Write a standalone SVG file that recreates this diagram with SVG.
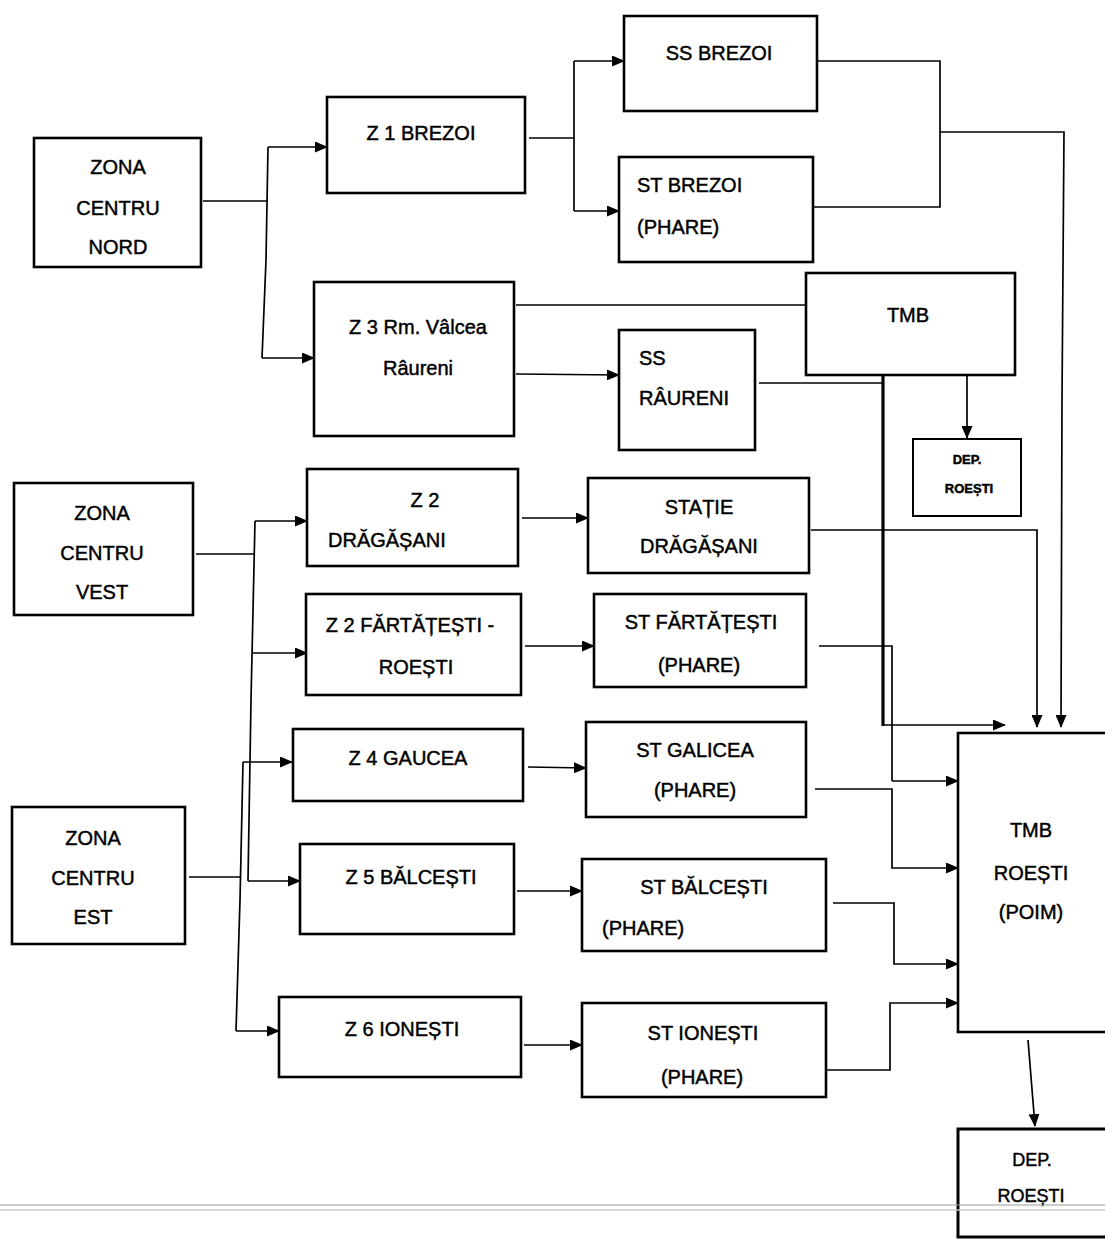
<svg xmlns="http://www.w3.org/2000/svg" width="1105" height="1239" viewBox="0 0 1105 1239">
<style>
.box{fill:#fff;stroke:#000;stroke-width:2.6}
.t{font-family:"Liberation Sans",Arial,sans-serif;font-size:20px;fill:#000;stroke:#000;stroke-width:0.45;text-anchor:middle}
.l{text-anchor:start}
.c{fill:none;stroke:#000;stroke-width:1.7}
.k{fill:none;stroke:#000;stroke-width:3.2}
.a{fill:none;stroke:#000;stroke-width:1.7;marker-end:url(#ah)}
</style>
<defs>
<marker id="ah" markerUnits="userSpaceOnUse" markerWidth="13" markerHeight="11" refX="12" refY="5.5" orient="auto">
<path d="M0,0 L13,5.5 L0,11 Z" fill="#000"/>
</marker>
</defs>
<rect width="1105" height="1239" fill="#fff"/>
<g id="connectors">
<polyline class="c" points="203,201 268,201"/>
<polyline class="c" points="268,147 266,260 262,358"/>
<polyline class="a" points="268,147 327,147"/>
<polyline class="a" points="262,358 314,358"/>
<polyline class="c" points="529,138 574,138"/>
<polyline class="c" points="574,61 574,211"/>
<polyline class="a" points="574,61 624,61"/>
<polyline class="a" points="574,211 619,211"/>
<polyline class="c" points="817,61 940,61 940,207 813,207"/>
<polyline class="a" points="940,132 1064,132 1062,400 1061,727"/>
<polyline class="c" points="516,305 806,305"/>
<polyline class="a" points="516,374 619,375"/>
<polyline class="c" points="759,383 883,383"/>
<polyline class="k" points="883,376 883,726"/>
<polyline class="a" points="967,375 967,438"/>
<polyline class="c" points="196,554 255,554"/>
<polyline class="c" points="255,521 251,700 248,881"/>
<polyline class="a" points="255,521 307,521"/>
<polyline class="a" points="253,653 307,653"/>
<polyline class="a" points="248,881 300,881"/>
<polyline class="c" points="189,877 240,877"/>
<polyline class="c" points="243,762 240,900 236,1031"/>
<polyline class="a" points="243,762 292,762"/>
<polyline class="a" points="236,1031 279,1031"/>
<polyline class="a" points="522,518 588,518"/>
<polyline class="a" points="525,646 594,646"/>
<polyline class="a" points="528,767 586,768"/>
<polyline class="a" points="517,891 582,891"/>
<polyline class="a" points="524,1045 582,1045"/>
<polyline class="a" points="811,530 1037,530 1037,727"/>
<polyline class="c" points="819,646 892,646 892,781"/>
<polyline class="a" points="892,781 958,781"/>
<polyline class="a" points="883,725 1005,725"/>
<polyline class="a" points="815,789 892,789 892,868 958,868"/>
<polyline class="a" points="833,903 894,903 894,964 958,964"/>
<polyline class="a" points="827,1070 890,1070 890,1003 958,1003"/>
<polyline class="a" points="1028,1040 1035,1126"/>
</g>
<g id="zona-nord">
<rect class="box" x="34" y="138" width="167" height="129"/>
<text class="t" x="118" y="174">ZONA</text>
<text class="t" x="118" y="215">CENTRU</text>
<text class="t" x="118" y="254">NORD</text>
</g>
<g id="z1-brezoi">
<rect class="box" x="327" y="97" width="198" height="96"/>
<text class="t" x="421" y="140">Z 1 BREZOI</text>
</g>
<g id="ss-brezoi">
<rect class="box" x="624" y="16" width="193" height="95"/>
<text class="t" x="719" y="60">SS BREZOI</text>
</g>
<g id="st-brezoi">
<rect class="box" x="619" y="157" width="194" height="105"/>
<text class="t l" x="637" y="192">ST BREZOI</text>
<text class="t l" x="637" y="234">(PHARE)</text>
</g>
<g id="z3-rm-valcea">
<rect class="box" x="314" y="282" width="200" height="154"/>
<text class="t" x="418" y="334">Z 3 Rm. Vâlcea</text>
<text class="t" x="418" y="375">Râureni</text>
</g>
<g id="ss-raureni">
<rect class="box" x="619" y="330" width="136" height="120"/>
<text class="t l" x="639" y="365">SS</text>
<text class="t l" x="639" y="405">RÂURENI</text>
</g>
<g id="tmb">
<rect class="box" x="806" y="273" width="209" height="102"/>
<text class="t" x="908" y="322">TMB</text>
</g>
<g id="dep-roesti-1">
<rect class="box" x="913" y="439" width="108" height="77" style="stroke-width:2"/>
<text class="t" x="967" y="464" style="font-size:13px;font-weight:bold">DEP.</text>
<text class="t" x="969" y="493" style="font-size:13px;font-weight:bold">ROEȘTI</text>
</g>
<g id="zona-vest">
<rect class="box" x="14" y="483" width="179" height="132"/>
<text class="t" x="102" y="520">ZONA</text>
<text class="t" x="102" y="560">CENTRU</text>
<text class="t" x="102" y="599">VEST</text>
</g>
<g id="z2-dragasani">
<rect class="box" x="307" y="469" width="211" height="97"/>
<text class="t" x="425" y="507">Z 2</text>
<text class="t l" x="328" y="547">DRĂGĂȘANI</text>
</g>
<g id="statie-dragasani">
<rect class="box" x="588" y="478" width="221" height="95"/>
<text class="t" x="699" y="514">STAȚIE</text>
<text class="t" x="699" y="553">DRĂGĂȘANI</text>
</g>
<g id="z2-fartatesti">
<rect class="box" x="306" y="594" width="215" height="101"/>
<text class="t" x="410" y="632">Z 2 FĂRTĂȚEȘTI -</text>
<text class="t" x="416" y="674">ROEȘTI</text>
</g>
<g id="st-fartatesti">
<rect class="box" x="594" y="594" width="212" height="93"/>
<text class="t" x="701" y="629">ST FĂRTĂȚEȘTI</text>
<text class="t" x="699" y="672">(PHARE)</text>
</g>
<g id="z4-galicea">
<rect class="box" x="293" y="729" width="230" height="72"/>
<text class="t" x="408" y="765">Z 4 GAUCEA</text>
</g>
<g id="st-galicea">
<rect class="box" x="586" y="722" width="220" height="95"/>
<text class="t" x="695" y="757">ST GALICEA</text>
<text class="t" x="695" y="797">(PHARE)</text>
</g>
<g id="zona-est">
<rect class="box" x="12" y="807" width="173" height="137"/>
<text class="t" x="93" y="845">ZONA</text>
<text class="t" x="93" y="885">CENTRU</text>
<text class="t" x="93" y="924">EST</text>
</g>
<g id="z5-balcesti">
<rect class="box" x="300" y="844" width="214" height="90"/>
<text class="t" x="411" y="884">Z 5 BĂLCEȘTI</text>
</g>
<g id="st-balcesti">
<rect class="box" x="582" y="859" width="244" height="92"/>
<text class="t" x="704" y="894">ST BĂLCEȘTI</text>
<text class="t l" x="602" y="935">(PHARE)</text>
</g>
<g id="z6-ionesti">
<rect class="box" x="279" y="997" width="242" height="80"/>
<text class="t" x="402" y="1036">Z 6 IONEȘTI</text>
</g>
<g id="st-ionesti">
<rect class="box" x="582" y="1003" width="244" height="94"/>
<text class="t" x="703" y="1040">ST IONEȘTI</text>
<text class="t" x="702" y="1084">(PHARE)</text>
</g>
<g id="tmb-roesti">
<rect class="box" x="958" y="733" width="170" height="299"/>
<text class="t" x="1031" y="837">TMB</text>
<text class="t" x="1031" y="880">ROEȘTI</text>
<text class="t" x="1031" y="919">(POIM)</text>
</g>
<g id="dep-roesti-2">
<rect class="box" x="958" y="1129" width="170" height="108" style="stroke-width:3"/>
<text class="t" x="1032" y="1166" style="font-size:18px">DEP.</text>
<text class="t" x="1031" y="1202" style="font-size:18px">ROEȘTI</text>
</g>
<g id="scan-line">
<line x1="0" y1="1205" x2="1105" y2="1205" stroke="#999" stroke-width="1.2"/>
<line x1="0" y1="1210" x2="1105" y2="1210" stroke="#c8c8c8" stroke-width="1.5"/>
</g>
</svg>
